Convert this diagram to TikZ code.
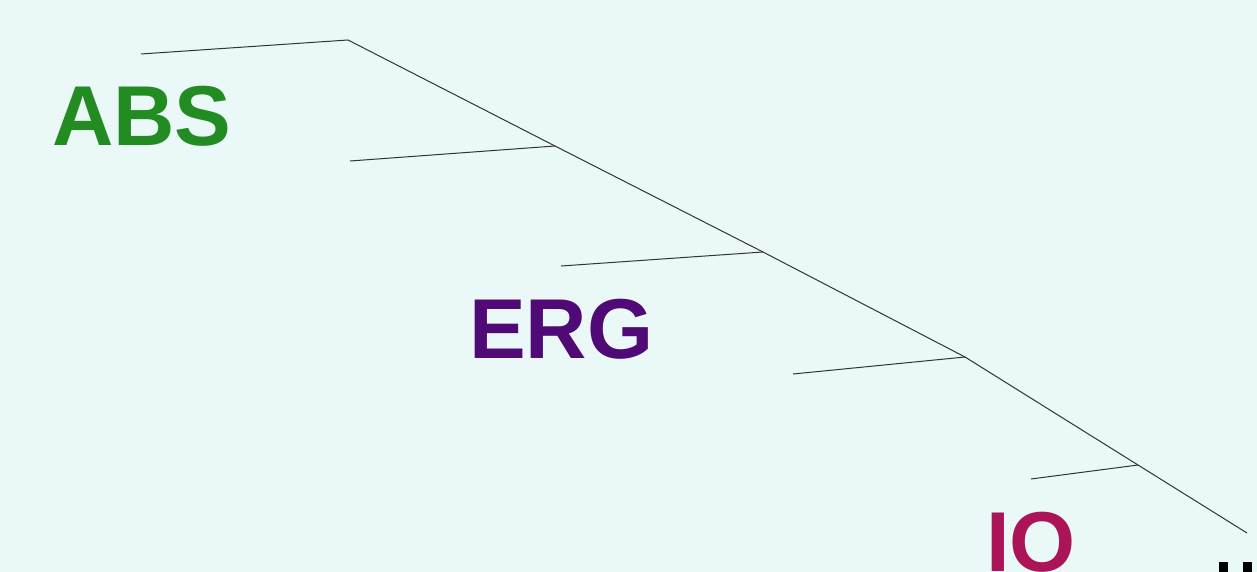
\documentclass[tikz,border=0pt]{standalone}
\usepackage{fontspec}
\setmainfont{Liberation Sans}
\definecolor{bg}{HTML}{EAF8F7}
\definecolor{absc}{HTML}{228B22}
\definecolor{ergc}{HTML}{4F0A75}
\definecolor{ioc}{HTML}{AB1457}
\definecolor{linec}{HTML}{333333}
\tikzset{
  tree/.style={draw=linec, line width=1pt},
  lbl/.style={inner sep=0pt, anchor=base west, font=\fontsize{85}{90}\selectfont\bfseries},
}
\begin{document}
\begin{tikzpicture}[x=1pt,y=-1pt]
\path[fill=bg] (0,0) rectangle (1257,572);
\useasboundingbox (0,0) rectangle (1257,572);
\coordinate (s0) at (141,54);
\coordinate (t0) at (348,40);
\coordinate (t1) at (555,146);
\coordinate (t2) at (763,252);
\coordinate (t3) at (965,357);
\coordinate (t4) at (1138,465);
\coordinate (t5) at (1247,533);
\coordinate (b1) at (350,161);
\coordinate (b2) at (561,266);
\coordinate (b3) at (793,374);
\coordinate (b4) at (1031,479);
\draw[tree] (s0) -- (t0) -- (t1) -- (t2) -- (t3) -- (t4) -- (t5);
\draw[tree] (b1) -- (t1);
\draw[tree] (b2) -- (t2);
\draw[tree] (b3) -- (t3);
\draw[tree] (b4) -- (t4);
\node[lbl, text=absc] (abs) at (52,146) {ABS};
\node[lbl, text=ergc] (erg) at (469,358) {ERG};
\node[lbl, text=ioc] (io) at (986,571) {IO};
\fill[black] (1219,562) rectangle (1228,572);
\fill[black] (1243,562) rectangle (1252,572);
\end{tikzpicture}
\end{document}
